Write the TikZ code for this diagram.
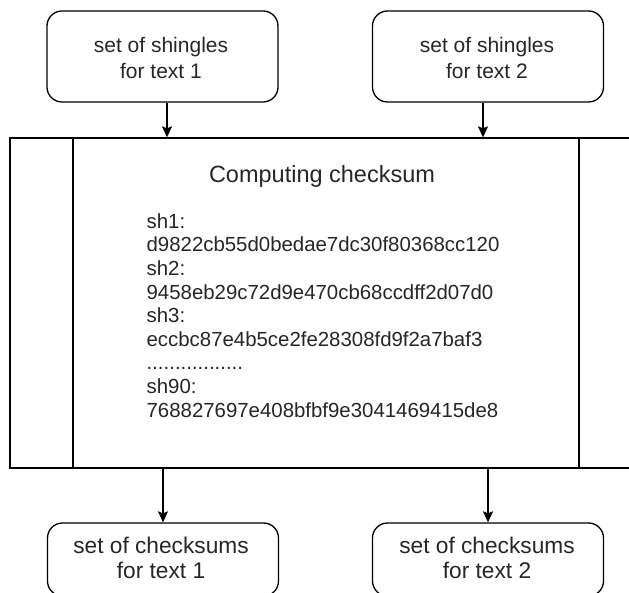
\documentclass[tikz,border=0pt]{standalone}
\usepackage{fontspec}
\setmainfont{Liberation Sans}
\usetikzlibrary{arrows.meta}
\begin{document}
\begin{tikzpicture}[x=1pt,y=-1pt,
  line width=1.3pt,
  txt/.style={text=black!85, inner sep=0pt, align=center},
  roundbox/.style={draw, rounded corners=15pt, minimum width=231pt, minimum height=91pt, inner sep=0pt},
  arr/.style={-{Stealth[length=11pt,width=10pt,inset=2pt]}}]
\useasboundingbox (0,0) rectangle (629,593);
\clip (0,0) rectangle (629,593);
% top boxes
\node[roundbox] (s1) at (162.5,56.5) {};
\node[txt, font=\fontsize{21}{26}\selectfont] (s1t) at (161,58) {set of shingles\\for text 1};
\node[roundbox] (s2) at (488,56.5) {};
\node[txt, font=\fontsize{21}{26}\selectfont] (s2t) at (487,58) {set of shingles\\for text 2};
% main process box
\node[draw, minimum width=632pt, minimum height=330pt, inner sep=0pt] (m) at (326,303) {};
\coordinate (l1) at (73,138);
\coordinate (l2) at (579,138);
\draw (l1) -- (l1 |- m.south);
\draw (l2) -- (l2 |- m.south);
\node[txt, font=\fontsize{23.5}{28}\selectfont] (title) at (322,176) {Computing checksum};
\node[txt, align=left, anchor=west, font=\fontsize{20.4}{23.6}\selectfont] (hashes) at (146,315.5)
 {sh1:\\d9822cb55d0bedae7dc30f80368cc120\\sh2:\\9458eb29c72d9e470cb68ccdff2d07d0\\sh3:\\eccbc87e4b5ce2fe28308fd9f2a7baf3\\.................\\sh90:\\768827697e408bfbf9e3041469415de8};
% bottom boxes
\node[roundbox, minimum height=73pt] (c1) at (163,559.5) {};
\node[txt, font=\fontsize{22.7}{25}\selectfont] (c1t) at (161,558) {set of checksums\\for text 1};
\node[roundbox, minimum height=73pt] (c2) at (488,559.5) {};
\node[txt, font=\fontsize{22.7}{25}\selectfont] (c2t) at (487,558) {set of checksums\\for text 2};
% arrows
\draw[arr] ([xshift=4.5pt]s1.south) -- ([xshift=4.5pt]s1.south |- m.north);
\draw[arr] ([xshift=-5pt]s2.south) -- ([xshift=-5pt]s2.south |- m.north);
\draw[arr] (c1.north |- m.south) -- (c1.north);
\draw[arr] (c2.north |- m.south) -- (c2.north);
\end{tikzpicture}
\end{document}
